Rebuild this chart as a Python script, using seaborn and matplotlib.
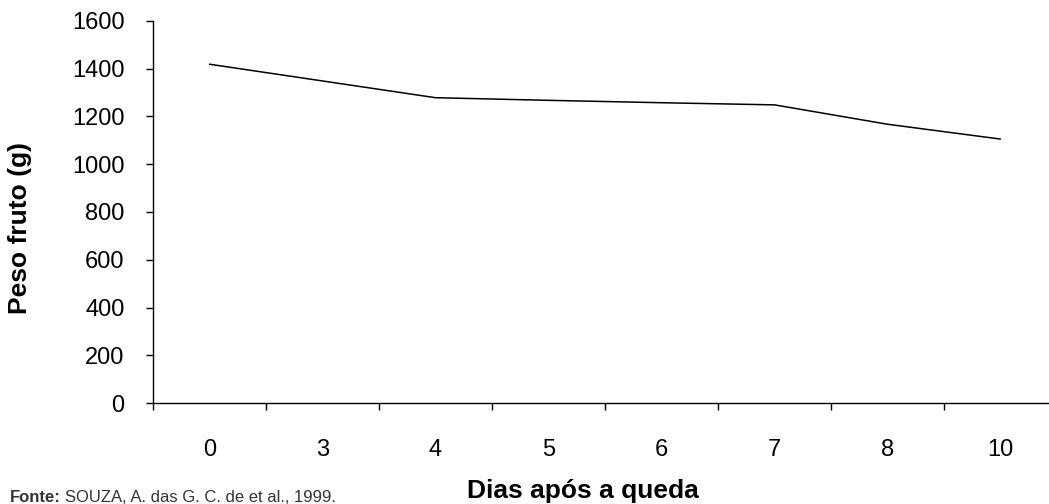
import matplotlib
matplotlib.use("Agg")
import matplotlib.pyplot as plt
import seaborn as sns
import pandas as pd
from matplotlib.ticker import FixedLocator, NullFormatter, FixedFormatter

dias = ["0", "3", "4", "5", "6", "7", "8", "10"]
peso = [1418, 1348, 1278, 1267, 1257, 1248, 1167, 1105]
yticks = [0, 200, 400, 600, 800, 1000, 1200, 1400, 1600]

sns.set_theme(style="white")
plt.rcParams["font.family"] = ["Liberation Sans", "DejaVu Sans"]

W, H = 1049, 504
fig = plt.figure(figsize=(W / 100, H / 100), dpi=100)
left, right, bottom, top = 153, W, 403.3, 20.7
ax = fig.add_axes([left / W, 1 - bottom / H, (right - left) / W, (bottom - top) / H])

df = pd.DataFrame({"dia": dias, "peso": peso})
sns.lineplot(data=df, x="dia", y="peso", ax=ax, color="black", linewidth=1.1, sort=False)

n = len(dias)
catw = 113.0
ax.set_xlim(-0.5, -0.5 + (right - left) / catw)
ax.set_ylim(0, 1600)

ax.xaxis.set_major_locator(FixedLocator([i - 0.5 for i in range(n + 1)]))
ax.xaxis.set_major_formatter(NullFormatter())
ax.xaxis.set_minor_locator(FixedLocator(list(range(n))))
ax.xaxis.set_minor_formatter(FixedFormatter(dias))
ax.tick_params(axis="x", which="major", length=5, width=1, color="black", direction="out", bottom=True)
ax.tick_params(axis="x", which="minor", length=0, labelsize=17, pad=26, labelcolor="black", bottom=True)

ax.set_yticks(yticks)
ax.set_yticklabels([str(v) for v in yticks])
ax.tick_params(axis="y", length=5, width=1, color="black", direction="out", labelsize=17,
               pad=15.5, labelcolor="black", left=True)

for s in ["top", "right"]:
    ax.spines[s].set_visible(False)
for s in ["left", "bottom"]:
    ax.spines[s].set_color("black")
    ax.spines[s].set_linewidth(1)

ax.set_xlabel("")
ax.set_ylabel("")
fig.text(20 / W, 1 - 228 / H, "Peso fruto (g)", rotation=90, ha="center", va="center",
         fontsize=19, fontweight="bold", color="black")
fig.text(583 / W, 1 - 498 / H, "Dias após a queda", ha="center", va="baseline",
         fontsize=19, fontweight="bold", color="black")
t1 = fig.text(10 / W, 1 - 502 / H, "Fonte:", ha="left", va="baseline",
              fontsize=12, fontweight="bold", color="#333333")
fig.canvas.draw()
bb = t1.get_window_extent()
fig.text((bb.x1 + 4) / W, 1 - 502 / H, "SOUZA, A. das G. C. de et al., 1999.", ha="left", va="baseline",
         fontsize=12, color="#333333")

fig.savefig("out.png", dpi=100)
